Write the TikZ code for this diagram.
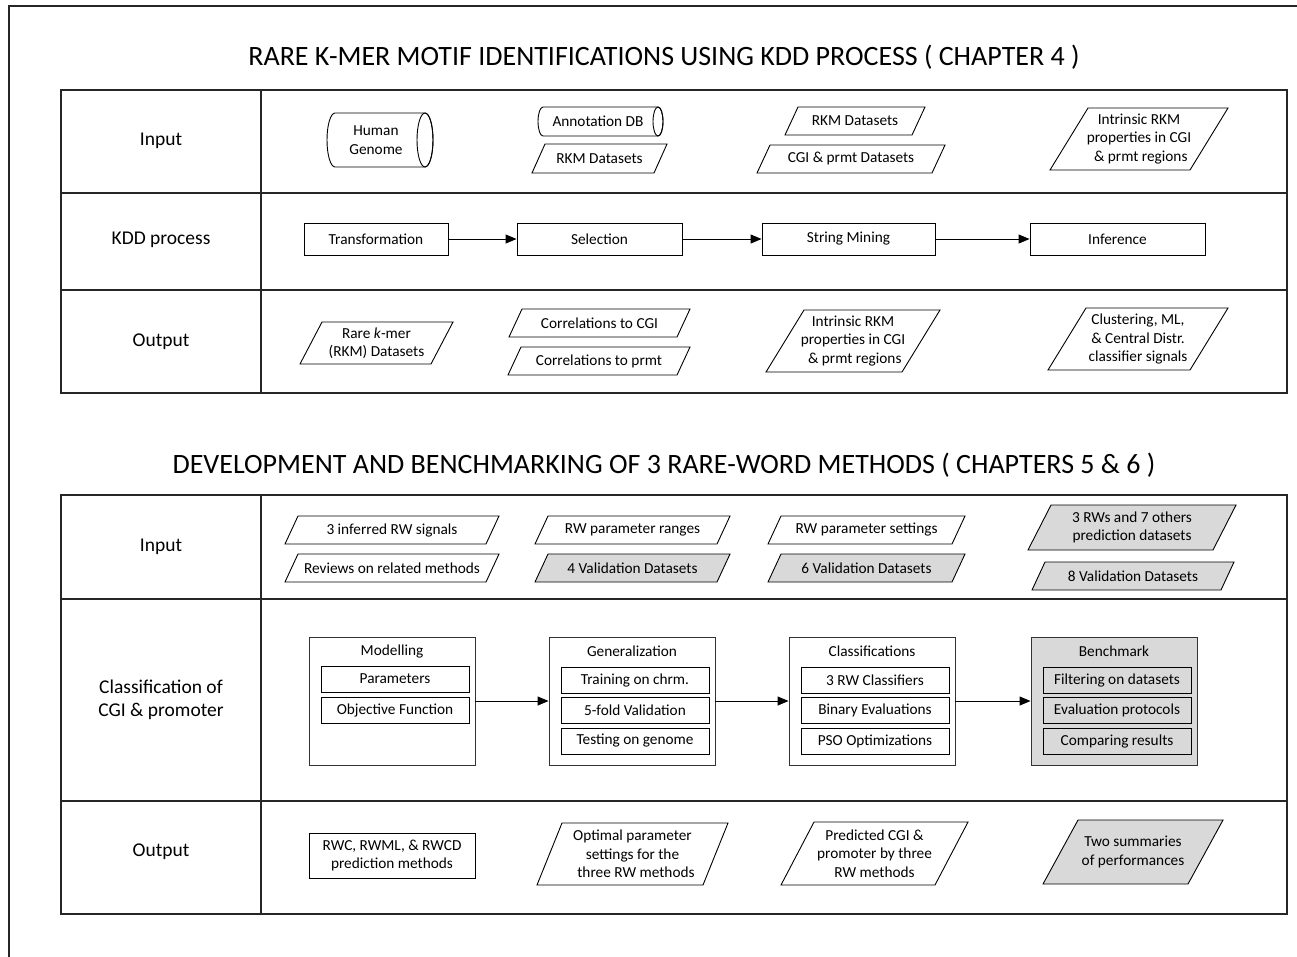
\documentclass[tikz,border=0pt]{standalone}
\usepackage{fontspec}
\setmainfont{Carlito}
\usetikzlibrary{arrows.meta}
\definecolor{boxgray}{HTML}{D9D9D9}
\definecolor{lineclr}{HTML}{262626}
% parallelogram: name, fill, x0, y0, x1, y1, slant, text
\newcommand{\pgram}[8]{%
  \draw[pgline, fill=#2] (#3+#7,#4) -- (#5,#4) -- (#5-#7,#6) -- (#3,#6) -- cycle;
  \node[btext] (#1) at ({(#3+#5)/2},{(#4+#6)/2}) {#8};}
% cylinder: name, x0, y0, x1, y1, rx, ry, text
\newcommand{\cyl}[8]{%
  \draw[pgline] (#2+#6,#3) -- (#4-#6,#3) arc[start angle=90, end angle=-90, x radius=#6pt, y radius=#7pt]
     -- (#2+#6,#5) arc[start angle=270, end angle=90, x radius=#6pt, y radius=#7pt] -- cycle;
  \draw[pgline] (#4-#6,{(#3+#5)/2}) ellipse [x radius=#6pt, y radius=#7pt];
  \node[btext] (#1) at ({(#2+#4)/2-#6/2},{(#3+#5)/2}) {#8};}
\begin{document}
\begin{tikzpicture}[x=1pt,y=-1pt,
  tline/.style={line width=1.5pt, draw=lineclr},
  pgline/.style={line width=0.9pt, draw=black},
  btext/.style={font=\fontsize{15.3}{18.5}\selectfont, align=center, inner sep=0pt},
  rlabel/.style={font=\fontsize{19.5}{23}\selectfont, align=center, inner sep=0pt},
  ttl/.style={font=\fontsize{28}{32}\selectfont, inner sep=0pt},
  rbox/.style={draw=black, line width=0.9pt, font=\fontsize{15.3}{18.5}\selectfont, align=center, inner sep=0pt},
  outbox/.style={draw=black!80, line width=0.9pt, minimum width=166pt, minimum height=128pt, inner sep=0pt},
  inbox/.style={rbox, minimum width=148pt, minimum height=26pt},
  arr/.style={line width=1pt, draw=black, -{Triangle[length=11pt,width=9pt]}}
]
\useasboundingbox (0,0) rectangle (1297,956);
% outer frame
\draw[line width=1.5pt, draw=lineclr] (9,960) -- (9,6) -- (1300,6);

% ---------------- Part 1 ----------------
\node[ttl] (t1) at (664,57) {RARE K-MER MOTIF IDENTIFICATIONS USING KDD PROCESS ( CHAPTER 4 )};
\draw[tline] (61,90) rectangle (1287,393);
\draw[tline] (61,193) -- (1287,193);
\draw[tline] (61,290) -- (1287,290);
\draw[tline] (261,90) -- (261,393);
\node[rlabel] (r1a) at (161,141) {Input};
\node[rlabel] (r1b) at (161,240) {KDD process};
\node[rlabel] (r1c) at (161,342) {Output};

% Input row
\cyl{hg}{327}{113}{433}{167}{8}{27}{Human\\Genome}
\cyl{adb}{538}{107}{663}{136}{5}{14.5}{Annotation DB}
\pgram{rkma}{white}{532}{144}{667}{173}{13}{RKM Datasets}
\pgram{rkmb}{white}{785}{107}{925}{135}{13}{RKM Datasets}
\pgram{cgip}{white}{757}{145}{945}{173}{13}{CGI \& prmt Datasets}
\pgram{intra}{white}{1050}{108}{1228}{170}{38}{Intrinsic RKM\\properties in CGI\\\ \& prmt regions}

% KDD row
\node[rbox, minimum width=144pt, minimum height=32pt] (trans) at (376,239) {Transformation};
\node[rbox, minimum width=165pt, minimum height=32pt] (sel) at (599.5,239) {Selection};
\node[rbox, minimum width=173pt, minimum height=32pt] (smin) at (848.5,239) {String Mining};
\node[rbox, minimum width=175pt, minimum height=32pt] (inf) at (1117.5,239) {Inference};
\draw[arr] (trans.east) -- (sel.west);
\draw[arr] (sel.east) -- (smin.west);
\draw[arr] (smin.east) -- (inf.west);

% Output row
\pgram{rare}{white}{300}{322}{453}{364}{22}{Rare \textit{k}-mer\\(RKM) Datasets}
\pgram{ccgi}{white}{509}{309}{690}{337}{13}{Correlations to CGI}
\pgram{cprm}{white}{508}{347}{690}{375}{13}{Correlations to prmt}
\pgram{intrb}{white}{766}{310}{940}{372}{38}{Intrinsic RKM\\properties in CGI\\\ \& prmt regions}
\pgram{clus}{white}{1048}{308}{1228}{370}{38}{Clustering, ML,\\\& Central Distr.\\classifier signals}

% ---------------- Part 2 ----------------
\node[ttl] (t2) at (664,465) {DEVELOPMENT AND BENCHMARKING OF 3 RARE-WORD METHODS ( CHAPTERS 5 \& 6 )};
\draw[tline] (61,495) rectangle (1287,914);
\draw[tline] (61,599) -- (1287,599);
\draw[tline] (61,801) -- (1287,801);
\draw[tline] (261,495) -- (261,914);
\node[rlabel] (r2a) at (161,547) {Input};
\node[rlabel] (r2b) at (161,700) {Classification of\\CGI \& promoter};
\node[rlabel] (r2c) at (161,852) {Output};

% Input row
\pgram{inf3}{white}{285}{516}{499}{544}{13}{3 inferred RW signals}
\pgram{rev}{white}{285}{554}{499}{582}{13}{Reviews on related methods}
\pgram{rwr}{white}{535}{516}{730}{544}{13}{RW parameter ranges}
\pgram{val4}{boxgray}{535}{554}{730}{582}{13}{4 Validation Datasets}
\pgram{rws}{white}{768}{516}{965}{544}{13}{RW parameter settings}
\pgram{val6}{boxgray}{768}{554}{965}{582}{13}{6 Validation Datasets}
\pgram{rw3}{boxgray}{1028}{505}{1236}{550}{23}{3 RWs and 7 others\\prediction datasets}
\pgram{val8}{boxgray}{1032}{562}{1234}{590}{13}{8 Validation Datasets}

% Classification row
\node[outbox] (mod) at (392,701) {};
\node[btext] (modt) at (392,651) {Modelling};
\node[inbox] (mod1) at (395,679) {Parameters};
\node[inbox] (mod2) at (395,710) {Objective Function};

\node[outbox] (gen) at (632,701) {};
\node[btext] (gent) at (632,651) {Generalization};
\node[inbox] (gen1) at (635,680) {Training on chrm.};
\node[inbox] (gen2) at (635,710.5) {5-fold Validation};
\node[inbox] (gen3) at (635,741) {Testing on genome};

\node[outbox] (cla) at (872,701) {};
\node[btext] (clat) at (872,651) {Classifications};
\node[inbox] (cla1) at (875,680) {3 RW Classifiers};
\node[inbox] (cla2) at (875,710.5) {Binary Evaluations};
\node[inbox] (cla3) at (875,741) {PSO Optimizations};

\node[outbox, fill=boxgray] (ben) at (1114,701) {};
\node[btext] (bent) at (1114,651) {Benchmark};
\node[inbox, fill=boxgray] (ben1) at (1117,680) {Filtering on datasets};
\node[inbox, fill=boxgray] (ben2) at (1117,710.5) {Evaluation protocols};
\node[inbox, fill=boxgray] (ben3) at (1117,741) {Comparing results};

\draw[arr] (mod.east) -- (gen.west);
\draw[arr] (gen.east) -- (cla.west);
\draw[arr] (cla.east) -- (ben.west);

% Output row
\node[rbox, minimum width=166pt, minimum height=45pt] (rwc) at (392,855.5) {RWC, RWML, \& RWCD\\prediction methods};
\pgram{opt}{white}{537}{823}{728}{885}{25}{Optimal parameter\\settings for the\\\ \ three RW methods}
\pgram{pred}{white}{781}{822}{968}{885}{33}{Predicted CGI \&\\promoter by three\\RW methods}
\pgram{two}{boxgray}{1043}{820}{1223}{884}{35}{Two summaries\\of performances}
\end{tikzpicture}
\end{document}
